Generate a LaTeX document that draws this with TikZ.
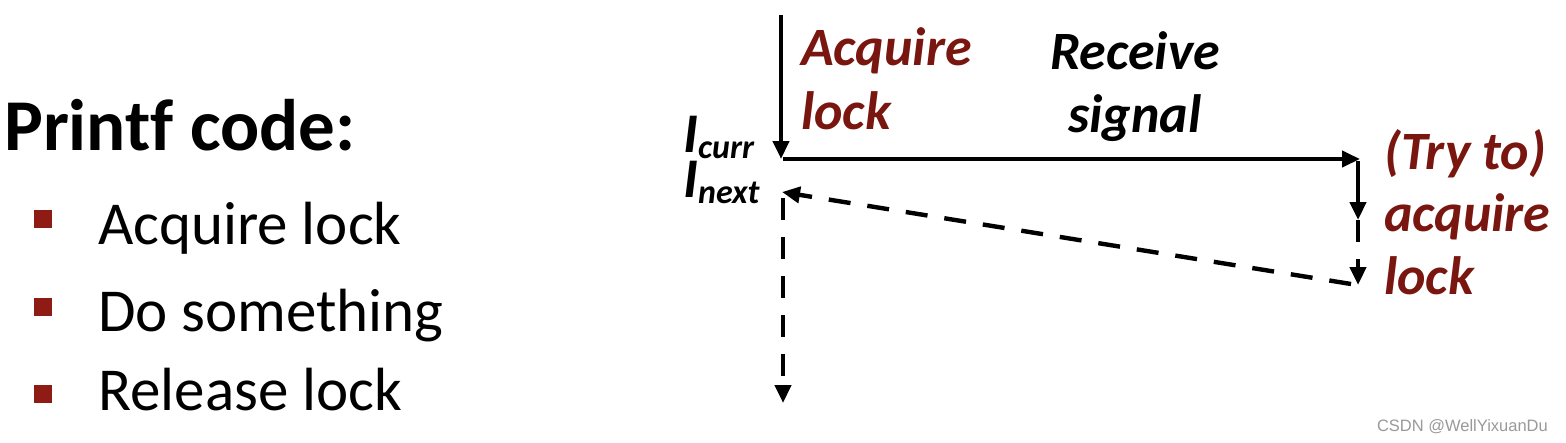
\documentclass[tikz,border=0pt]{standalone}
\usepackage{fontspec}
\setmainfont{Carlito}[Ligatures=NoCommon]
\newfontfamily\wmfont{Liberation Sans}
\usetikzlibrary{arrows.meta}
\definecolor{darkred}{HTML}{7A1610}
\definecolor{bulletred}{HTML}{8E1B14}
\tikzset{
  conn/.style={line width=4.4pt, -{Triangle[length=18pt,width=16pt]}},
  dconn/.style={conn, dash pattern=on 22pt off 17pt},
  lbl/.style={inner sep=0pt, font=\fontsize{54}{63}\selectfont\bfseries\itshape},
  bul/.style={fill=bulletred, minimum size=18pt, inner sep=0pt},
  btxt/.style={anchor=base west, inner sep=0pt, font=\fontsize{61}{70}\selectfont},
}
\begin{document}
\begin{tikzpicture}[x=1pt,y=-1pt]
\useasboundingbox (0,0) rectangle (1566,442);
% left text
\node[anchor=base west, inner sep=0pt, font=\fontsize{73}{80}\selectfont\bfseries] (title) at (4,150) {Printf code:};
\node[bul] (b1) at (43,219) {};
\node[bul] (b2) at (43,307) {};
\node[bul] (b3) at (43,394) {};
\node[btxt] (t1) at (98,244) {Acquire lock};
\node[btxt] (t2) at (98,331) {Do something};
\node[btxt] (t3) at (98,410) {Release lock};
% coordinates
\coordinate (top) at (781,15);
\coordinate (cur) at (781,159);
\coordinate (curR) at (783,159);
\coordinate (rt) at (1360,159);
\coordinate (rtd) at (1358,161);
\coordinate (rmid) at (1358,220);
\coordinate (rbot) at (1358,285);
\coordinate (rbotL) at (1351,284);
\coordinate (nxt) at (782,192);
\coordinate (nxtd) at (783,198);
\coordinate (fin) at (783,403);
% connectors
\draw[conn] (top) -- (cur);
\draw[conn] (curR) -- (rt);
\draw[conn] (rtd) -- (rmid);
\draw[dconn] (rmid) -- (rbot);
\draw[dconn] (rbotL) -- (nxt);
\draw[dconn] (nxtd) -- (fin);
% labels
\node[lbl, text=darkred, anchor=base west] (acq1) at (801,65) {Acquire};
\node[lbl, text=darkred, anchor=base west] (acq2) at (801,129) {lock};
\node[lbl, anchor=base] (rcv1) at (1135,69) {Receive};
\node[lbl, anchor=base] (rcv2) at (1135,132) {signal};
\node[lbl, text=darkred, anchor=base west] (try1) at (1384,169) {(Try to)};
\node[lbl, text=darkred, anchor=base west] (try2) at (1384,231) {acquire};
\node[lbl, text=darkred, anchor=base west] (try3) at (1384,294) {lock};
\node[anchor=base west, inner sep=0pt, font=\fontsize{56}{60}\selectfont\bfseries\itshape] (icur) at (683,152) {I\raisebox{-6pt}{\fontsize{34}{40}\selectfont curr}};
\node[anchor=base west, inner sep=0pt, font=\fontsize{56}{60}\selectfont\bfseries\itshape] (inxt) at (683,197) {I\raisebox{-6pt}{\fontsize{34}{40}\selectfont next}};
\node[anchor=base east, inner sep=0pt, text=black!40, font=\fontsize{16.5}{18}\selectfont\wmfont] (wm) at (1548,431) {CSDN @WellYixuanDu};
\end{tikzpicture}
\end{document}
